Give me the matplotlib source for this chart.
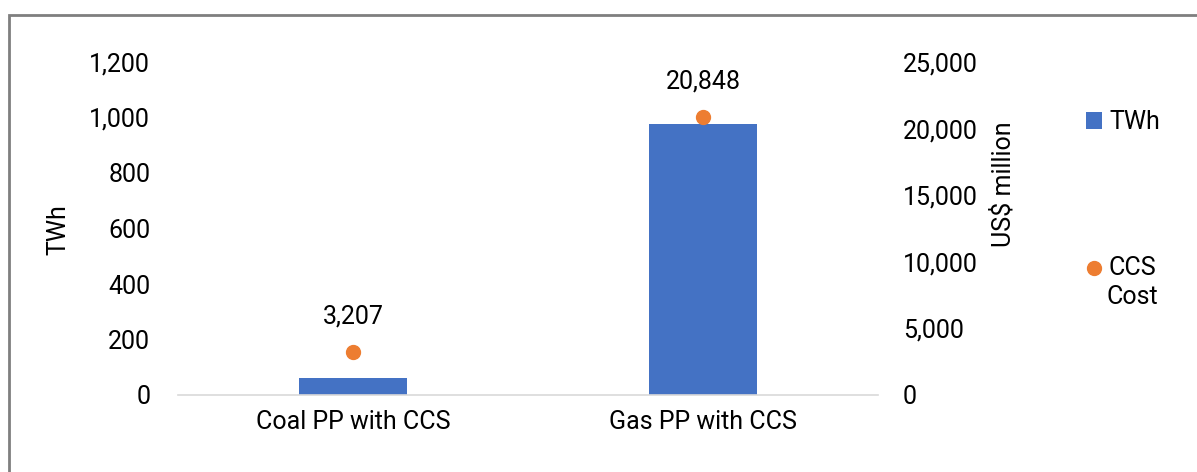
import matplotlib.pyplot as plt
from matplotlib.ticker import FuncFormatter
from matplotlib.patches import Rectangle

# ------------------ DATA ------------------
categories = ["Coal PP with CCS", "Gas PP with CCS"]
twh = [62, 976]
ccs_cost = [3207, 20848]
cost_labels = ["3,207", "20,848"]

plt.rcParams["font.family"] = ["Roboto", "DejaVu Sans"]
FS = 18
BLUE = "#4472C4"
ORANGE = "#ED7D31"
W, H = 1197, 472

# ------------------ PLOT ------------------
fig = plt.figure(figsize=(W / 100, H / 100), dpi=100)
ax = fig.add_axes([178 / W, 1 - 395 / H, 700 / W, 333 / H])
ax2 = ax.twinx()

x = range(len(categories))
ax.bar(x, twh, width=0.31, color=BLUE, label="TWh", zorder=2)
ax2.scatter(x, ccs_cost, s=100, color=ORANGE, label="CCS", zorder=3)
for xi, v, lab in zip(x, ccs_cost, cost_labels):
    ax2.annotate(lab, (xi, v), xytext=(0, 26), textcoords="offset points",
                 ha="center", va="center", fontsize=FS)

ax.set_xlim(-0.5, 1.5)
ax.set_ylim(0, 1200)
ax.set_yticks(range(0, 1201, 200))
ax2.set_ylim(0, 25000)
ax2.set_yticks(range(0, 25001, 5000))
fmt = FuncFormatter(lambda v, p: f"{int(v):,}")
ax.yaxis.set_major_formatter(fmt)
ax2.yaxis.set_major_formatter(fmt)

ax.set_xticks(list(x))
ax.set_xticklabels(categories, fontsize=FS)
ax.tick_params(axis="both", length=0, labelsize=FS)
ax.tick_params(axis="y", pad=20)
ax.tick_params(axis="x", pad=11)
ax2.tick_params(axis="y", length=0, labelsize=FS, pad=18)

for a in (ax, ax2):
    for s in ["top", "right", "left", "bottom"]:
        a.spines[s].set_visible(False)
ax.spines["bottom"].set_visible(True)
ax.spines["bottom"].set_color("#D9D9D9")
ax.spines["bottom"].set_linewidth(1.2)

ax.set_ylabel("TWh", fontsize=FS)
ax.yaxis.set_label_coords((70 - 178) / 700, (395 - 230) / 333)
ax2.set_ylabel("US$ million", fontsize=FS)
ax2.yaxis.set_label_coords((991 - 178) / 700, (395 - 184) / 333)

h1, l1 = ax.get_legend_handles_labels()
h2, l2 = ax2.get_legend_handles_labels()
leg = fig.legend(h1 + h2, l1 + l2, loc="upper left",
                 bbox_to_anchor=(1086 / W, 1 - 110 / H),
                 frameon=False, fontsize=FS, labelspacing=4.88, handlelength=0.62,
                 handletextpad=0.3, borderaxespad=0, borderpad=0)
fig.text(1107 / W, 1 - 297 / H, "Cost", fontsize=FS, ha="left", va="center")

# outer border
fig.patches.append(Rectangle((9 / W, -0.1), 1.2, 1 - 15 / H + 0.1,
                             transform=fig.transFigure, fill=False,
                             edgecolor="#7F7F7F", linewidth=2))

plt.savefig("out.png", dpi=100)
plt.close()
